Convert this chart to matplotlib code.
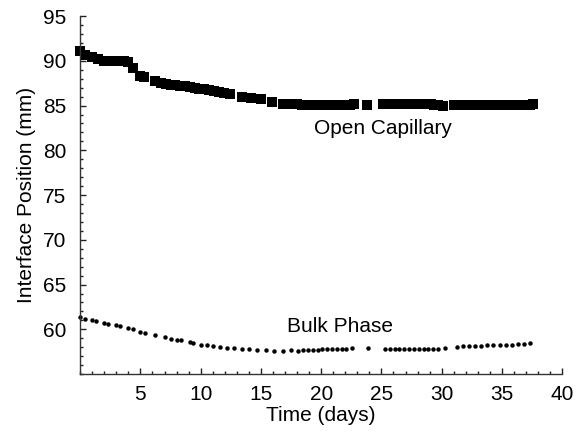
import matplotlib
matplotlib.use("Agg")
import matplotlib.pyplot as plt
from matplotlib.ticker import MultipleLocator, FixedLocator

plt.rcParams['font.family'] = ['Liberation Sans', 'DejaVu Sans']

open_days = [0.0, 0.4, 1.0, 1.5, 2.0, 2.4, 2.8, 3.2, 3.6, 4.0, 4.4, 5.0, 5.3,
             6.2, 6.7, 7.1, 7.5, 7.9, 8.3, 8.7, 9.1, 9.5, 9.9, 10.3, 10.7,
             11.1, 11.5, 11.9, 12.4, 13.4, 14.2, 15.0, 15.9,
             16.8, 17.2, 17.6, 18.0, 18.4, 18.8, 19.2, 19.6, 20.0, 20.4,
             20.8, 21.2, 21.6, 22.0, 22.4, 22.7, 23.8,
             25.1, 25.5, 25.9, 26.3, 26.7, 27.1, 27.5, 27.9, 28.3, 28.7,
             29.1, 29.4, 29.7, 30.1,
             31.0, 31.4, 31.8, 32.2, 32.6, 33.0, 33.4, 33.8, 34.2, 34.6,
             35.0, 35.4, 35.8, 36.2, 36.6, 37.0, 37.3, 37.6]
open_pos = [91.1, 90.7, 90.4, 90.2, 90.0, 90.0, 90.0, 90.0, 90.0, 89.9, 89.2, 88.3, 88.2,
            87.7, 87.5, 87.4, 87.35, 87.3, 87.2, 87.15, 87.1, 87.0, 86.9, 86.8, 86.7,
            86.6, 86.5, 86.4, 86.3, 86.0, 85.8, 85.75, 85.45,
            85.2, 85.2, 85.2, 85.15, 85.1, 85.1, 85.1, 85.1, 85.1, 85.1,
            85.1, 85.1, 85.1, 85.1, 85.1, 85.15, 85.1,
            85.2, 85.2, 85.2, 85.2, 85.2, 85.2, 85.2, 85.2, 85.2, 85.15,
            85.15, 85.1, 85.05, 84.95,
            85.05, 85.05, 85.05, 85.05, 85.05, 85.05, 85.05, 85.05, 85.05, 85.05,
            85.05, 85.05, 85.05, 85.05, 85.05, 85.05, 85.1, 85.2]

bulk_days = [0.0, 0.4, 1.0, 1.3, 2.0, 2.35, 3.0, 3.3, 4.0, 4.4, 5.0, 5.4, 6.2,
             7.0, 7.5, 8.0, 8.4, 9.1, 9.4, 10.0, 10.5, 11.0, 11.6, 12.2, 12.8,
             13.4, 14.0, 14.7, 15.4, 16.1, 16.8, 17.5, 18.1, 18.5, 18.9, 19.3,
             19.7, 20.1, 20.5, 20.9, 21.3, 21.7, 22.1, 22.6, 23.9,
             25.3, 25.7, 26.1, 26.5, 26.9, 27.3, 27.7, 28.1, 28.5, 28.9, 29.3,
             29.7, 30.3, 31.3, 31.8, 32.3, 32.8, 33.3, 33.8, 34.3, 34.8, 35.3,
             35.8, 36.3, 36.8, 37.3]
bulk_pos = [61.4, 61.2, 61.0, 60.9, 60.75, 60.65, 60.45, 60.4, 60.1, 60.0, 59.7, 59.55, 59.4,
            59.15, 58.95, 58.8, 58.85, 58.6, 58.45, 58.3, 58.2, 58.1, 58.0, 57.95, 57.9,
            57.85, 57.8, 57.7, 57.65, 57.6, 57.6, 57.65, 57.6, 57.65, 57.65, 57.7,
            57.7, 57.75, 57.75, 57.8, 57.8, 57.8, 57.8, 57.9, 57.9,
            57.85, 57.8, 57.8, 57.8, 57.8, 57.8, 57.85, 57.85, 57.8, 57.8, 57.8,
            57.75, 57.95, 58.05, 58.1, 58.1, 58.15, 58.15, 58.2, 58.2, 58.25, 58.25,
            58.3, 58.35, 58.4, 58.45]

x_ticks = [5, 10, 15, 20, 25, 30, 35, 40]
y_ticks = [60, 65, 70, 75, 80, 85, 90, 95]

fig = plt.figure(figsize=(5.85, 4.34), dpi=100)
ax = fig.add_axes([0.137, 0.138, 0.824, 0.825])

ax.plot(open_days, open_pos, linestyle='none', marker='s', markersize=7.2,
        color='black', markeredgewidth=0, clip_on=False)
ax.plot(bulk_days, bulk_pos, linestyle='none', marker='o', markersize=3.2,
        color='black', markeredgewidth=0, clip_on=False)

ax.text(25.1, 82.4, 'Open Capillary', ha='center', va='center', fontsize=15)
ax.text(21.6, 60.3, 'Bulk Phase', ha='center', va='center', fontsize=15)

ax.set_xlim(0, 40)
ax.set_ylim(55, 95)
ax.xaxis.set_major_locator(FixedLocator(x_ticks))
ax.yaxis.set_major_locator(FixedLocator(y_ticks))
ax.xaxis.set_minor_locator(MultipleLocator(1))
ax.yaxis.set_minor_locator(MultipleLocator(1))
ax.tick_params(which='both', direction='in', width=1, colors='#222222',
               labelcolor='black', labelsize=15)
ax.tick_params(axis='x', which='major', length=4.5, pad=8)
ax.tick_params(axis='y', which='major', length=4.5, pad=10)
ax.tick_params(which='minor', length=2.5)

for s in ['top', 'right']:
    ax.spines[s].set_visible(False)
for s in ['left', 'bottom']:
    ax.spines[s].set_color('#333333')
    ax.spines[s].set_linewidth(1)

ax.set_xlabel('Time (days)', fontsize=15, labelpad=1)
ax.set_ylabel('Interface Position (mm)', fontsize=15, labelpad=5)

fig.savefig('out.png', dpi=100)
